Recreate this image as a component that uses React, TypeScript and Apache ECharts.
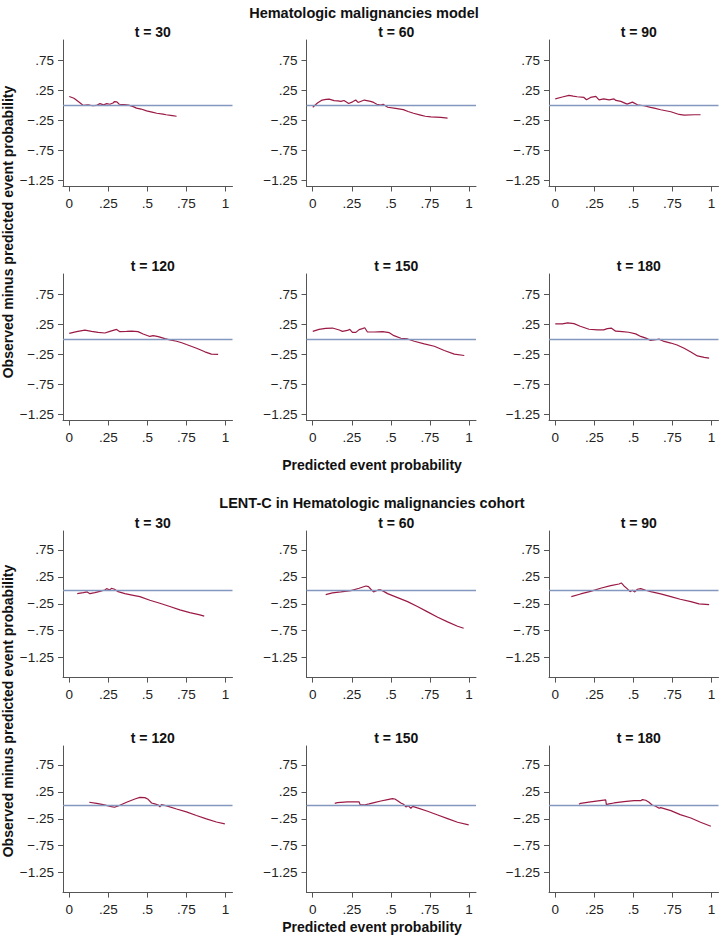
import React, { useEffect, useRef } from "react";
import * as echarts from "echarts";

// ---- Data: [predicted probability, observed minus predicted] ----
const hem30: number[][] = [[0,0.15],[0.03,0.12],[0.06,0.06],[0.09,0.0],[0.12,0.01],[0.15,-0.005],[0.175,0.0],[0.196,0.03],[0.22,0.01],[0.24,0.03],[0.26,0.02],[0.28,0.04],[0.29,0.065],[0.305,0.06],[0.32,0.02],[0.35,0.015],[0.38,0.005],[0.41,-0.02],[0.43,-0.045],[0.46,-0.06],[0.495,-0.09],[0.53,-0.11],[0.56,-0.13],[0.6,-0.145],[0.62,-0.155],[0.66,-0.17],[0.687,-0.18]];
const hem60: number[][] = [[0,-0.03],[0.03,0.04],[0.06,0.09],[0.085,0.1],[0.105,0.105],[0.137,0.08],[0.16,0.075],[0.18,0.067],[0.2,0.083],[0.23,0.033],[0.255,0.06],[0.275,0.09],[0.29,0.05],[0.31,0.07],[0.33,0.09],[0.37,0.067],[0.39,0.05],[0.41,0.02],[0.436,0.005],[0.45,0.02],[0.48,-0.03],[0.53,-0.05],[0.58,-0.07],[0.61,-0.1],[0.645,-0.13],[0.69,-0.16],[0.72,-0.18],[0.756,-0.19],[0.82,-0.2],[0.863,-0.21]];
const hem90: number[][] = [[0,0.11],[0.045,0.14],[0.088,0.167],[0.115,0.155],[0.14,0.145],[0.184,0.133],[0.2,0.094],[0.226,0.133],[0.26,0.15],[0.28,0.094],[0.31,0.11],[0.345,0.094],[0.376,0.11],[0.388,0.083],[0.42,0.067],[0.46,0.022],[0.494,0.055],[0.526,0.011],[0.568,-0.005],[0.61,-0.033],[0.64,-0.05],[0.675,-0.072],[0.74,-0.105],[0.793,-0.15],[0.825,-0.16],[0.89,-0.155],[0.93,-0.155]];
const hem120: number[][] = [[0,0.1],[0.047,0.13],[0.1,0.155],[0.143,0.135],[0.185,0.118],[0.228,0.107],[0.26,0.135],[0.303,0.167],[0.324,0.13],[0.367,0.135],[0.4,0.14],[0.44,0.13],[0.473,0.09],[0.516,0.05],[0.537,0.063],[0.57,0.047],[0.612,0.014],[0.644,-0.008],[0.687,-0.03],[0.72,-0.055],[0.75,-0.085],[0.815,-0.146],[0.868,-0.206],[0.91,-0.245],[0.953,-0.25]];
const hem150: number[][] = [[0,0.135],[0.04,0.168],[0.083,0.185],[0.126,0.19],[0.17,0.157],[0.19,0.135],[0.222,0.15],[0.237,0.168],[0.254,0.118],[0.276,0.118],[0.297,0.163],[0.318,0.18],[0.333,0.195],[0.35,0.124],[0.393,0.124],[0.447,0.13],[0.49,0.113],[0.52,0.063],[0.564,0.02],[0.607,0.008],[0.65,-0.03],[0.714,-0.074],[0.778,-0.113],[0.842,-0.184],[0.906,-0.245],[0.97,-0.267]];
const hem180: number[][] = [[0,0.258],[0.045,0.258],[0.08,0.275],[0.12,0.264],[0.16,0.22],[0.216,0.17],[0.27,0.16],[0.31,0.16],[0.333,0.18],[0.36,0.187],[0.387,0.137],[0.43,0.13],[0.47,0.12],[0.515,0.093],[0.547,0.05],[0.58,0.022],[0.61,-0.016],[0.643,-0.005],[0.664,0.005],[0.697,-0.033],[0.74,-0.06],[0.78,-0.093],[0.825,-0.148],[0.868,-0.21],[0.91,-0.275],[0.953,-0.3],[0.985,-0.31]];

const lent30: number[][] = [[0.051,-0.062],[0.09,-0.043],[0.115,-0.03],[0.132,-0.062],[0.164,-0.043],[0.196,-0.019],[0.228,0.006],[0.239,0.031],[0.26,0.006],[0.27,0.037],[0.29,0.019],[0.313,-0.025],[0.356,-0.062],[0.41,-0.093],[0.452,-0.117],[0.516,-0.185],[0.58,-0.24],[0.644,-0.3],[0.708,-0.364],[0.772,-0.414],[0.836,-0.457],[0.864,-0.48]];
const lent60: number[][] = [[0.083,-0.08],[0.126,-0.049],[0.18,-0.03],[0.244,-0.006],[0.297,0.037],[0.34,0.08],[0.357,0.068],[0.372,0.019],[0.389,-0.03],[0.404,-0.012],[0.419,0.006],[0.436,0.006],[0.457,-0.025],[0.479,-0.062],[0.543,-0.136],[0.607,-0.21],[0.67,-0.3],[0.735,-0.4],[0.8,-0.5],[0.863,-0.586],[0.927,-0.667],[0.966,-0.704]];
const lent90: number[][] = [[0.103,-0.117],[0.162,-0.068],[0.226,-0.019],[0.29,0.037],[0.355,0.086],[0.408,0.117],[0.423,0.136],[0.44,0.08],[0.46,0.031],[0.479,-0.025],[0.494,0],[0.509,-0.03],[0.526,0.019],[0.547,0.031],[0.579,0],[0.611,-0.025],[0.675,-0.068],[0.74,-0.117],[0.8,-0.167],[0.868,-0.21],[0.92,-0.253],[0.985,-0.265]];
const lent120: number[][] = [[0.128,0.056],[0.175,0.037],[0.217,0.012],[0.27,-0.025],[0.29,-0.037],[0.313,-0.012],[0.367,0.056],[0.42,0.117],[0.452,0.148],[0.484,0.142],[0.505,0.111],[0.527,0.043],[0.548,0.025],[0.57,0.006],[0.58,-0.031],[0.59,0.012],[0.623,-0.012],[0.687,-0.068],[0.75,-0.123],[0.814,-0.19],[0.878,-0.253],[0.942,-0.31],[0.996,-0.346]];
const lent150: number[][] = [[0.141,0.037],[0.158,0.049],[0.222,0.062],[0.297,0.062],[0.303,0.012],[0.329,0.006],[0.361,0.025],[0.393,0.049],[0.436,0.08],[0.479,0.105],[0.51,0.123],[0.526,0.117],[0.543,0.086],[0.564,0.043],[0.581,0.019],[0.596,-0.031],[0.611,-0.006],[0.628,-0.056],[0.639,-0.019],[0.67,-0.049],[0.735,-0.111],[0.8,-0.18],[0.863,-0.247],[0.927,-0.315],[0.998,-0.364]];
const lent180: number[][] = [[0.152,0.019],[0.162,0.037],[0.226,0.062],[0.323,0.099],[0.327,0.012],[0.344,0.025],[0.376,0.043],[0.44,0.068],[0.504,0.086],[0.547,0.086],[0.558,0.105],[0.579,0.093],[0.6,0.056],[0.62,0.006],[0.643,-0.019],[0.665,-0.056],[0.675,-0.043],[0.74,-0.099],[0.8,-0.173],[0.868,-0.235],[0.93,-0.315],[0.996,-0.389]];

const panelTitles = ["t = 30", "t = 60", "t = 90", "t = 120", "t = 150", "t = 180"];
const xTicks = [0, 0.25, 0.5, 0.75, 1];
const yTicks = [-1.25, -0.75, -0.25, 0.25, 0.75];
const blockTitles = ["Hematologic malignancies model", "LENT-C in Hematologic malignancies cohort"];
const xTitle = "Predicted event probability";
const yTitle = "Observed minus predicted event probability";

const FONT = '"Liberation Sans", Arial, Helvetica, sans-serif';
const LINE = "#9b1a45";
const REF = "#8298bf";
const AXIS = "#555555";

function fmt(v: number): string {
  if (v === 0) return "0";
  const a = Math.abs(v);
  const s = a < 1 ? String(a).replace(/^0/, "") : String(a);
  return (v < 0 ? "\u2212" : "") + s;
}

export default function App() {
  const ref = useRef<HTMLDivElement>(null);
  useEffect(() => {
    if (!ref.current) return;
    const chart = echarts.init(ref.current, undefined, { renderer: "svg" });
    const blocks = [
      { data: [hem30, hem60, hem90, hem120, hem150, hem180], rowTops: [40, 274], h: 146.5, ymin: -1.35, ymax: 1.09 },
      { data: [lent30, lent60, lent90, lent120, lent150, lent180], rowTops: [531, 746], h: 146.6, ymin: -1.62, ymax: 1.1 },
    ];
    const colLefts = [63, 306.5, 549];
    const W = 169.5;
    const grids: any[] = [];
    const xAxes: any[] = [];
    const yAxes: any[] = [];
    const series: any[] = [];
    const titles: any[] = [];
    const bold = (size: number) => ({ fontSize: size, fontWeight: "bold", color: "#111", fontFamily: FONT, lineHeight: size + 1 });
    let idx = 0;
    blocks.forEach((b) => {
      b.data.forEach((d, pi) => {
        const r = Math.floor(pi / 3);
        const c = pi % 3;
        const left = colLefts[c];
        const top = b.rowTops[r];
        grids.push({ left, top, width: W, height: b.h, containLabel: false });
        xAxes.push({
          type: "value", gridIndex: idx, min: -0.04, max: 1.045,
          axisLine: { onZero: false, lineStyle: { color: AXIS, width: 1 } },
          axisTick: { customValues: xTicks, length: 5, lineStyle: { color: AXIS } },
          axisLabel: { customValues: xTicks, formatter: fmt, margin: 10, color: "#222", fontSize: 13.5, fontFamily: FONT },
          splitLine: { show: false },
        });
        yAxes.push({
          type: "value", gridIndex: idx, min: b.ymin, max: b.ymax,
          axisLine: { show: true, onZero: false, lineStyle: { color: AXIS, width: 1 } },
          axisTick: { show: true, customValues: yTicks, length: 5, lineStyle: { color: AXIS } },
          axisLabel: { customValues: yTicks, formatter: fmt, margin: 9, color: "#222", fontSize: 13.5, fontFamily: FONT },
          splitLine: { show: false },
        });
        series.push({
          type: "line", xAxisIndex: idx, yAxisIndex: idx, data: d, symbol: "none",
          lineStyle: { color: LINE, width: 1.2 }, silent: true,
          markLine: {
            silent: true, symbol: ["none", "none"], label: { show: false },
            lineStyle: { color: REF, width: 1.4, type: "solid" },
            data: [{ yAxis: 0 }],
          },
        });
        titles.push({
          text: panelTitles[pi], left: left + W / 2, top: top - 21, textAlign: "center",
          textStyle: bold(14),
        });
        idx++;
      });
    });
    titles.push({ text: blockTitles[0], left: 359, top: 0, textAlign: "center", textStyle: bold(14.5) });
    titles.push({ text: blockTitles[1], left: 367, top: 490, textAlign: "center", textStyle: bold(14.5) });
    titles.push({ text: xTitle, left: 367, top: 452, textAlign: "center", textStyle: bold(14) });
    titles.push({ text: xTitle, left: 367, top: 920, textAlign: "center", textStyle: { ...bold(14), lineHeight: 14 }, padding: [0, 5, 0, 5] });

    chart.setOption({
      animation: false,
      backgroundColor: "#ffffff",
      title: titles,
      grid: grids,
      xAxis: xAxes,
      yAxis: yAxes,
      series,
      graphic: [
        { type: "text", x: 8, y: 232, rotation: Math.PI / 2, style: { text: yTitle, font: `bold 14px ${FONT}`, fill: "#111", align: "center", verticalAlign: "middle" } },
        { type: "text", x: 8, y: 711, rotation: Math.PI / 2, style: { text: yTitle, font: `bold 14px ${FONT}`, fill: "#111", align: "center", verticalAlign: "middle" } },
      ],
    });
    return () => chart.dispose();
  }, []);
  return <div ref={ref} style={{ position: "absolute", left: 0, top: 0, width: 719, height: 937 }} />;
}
